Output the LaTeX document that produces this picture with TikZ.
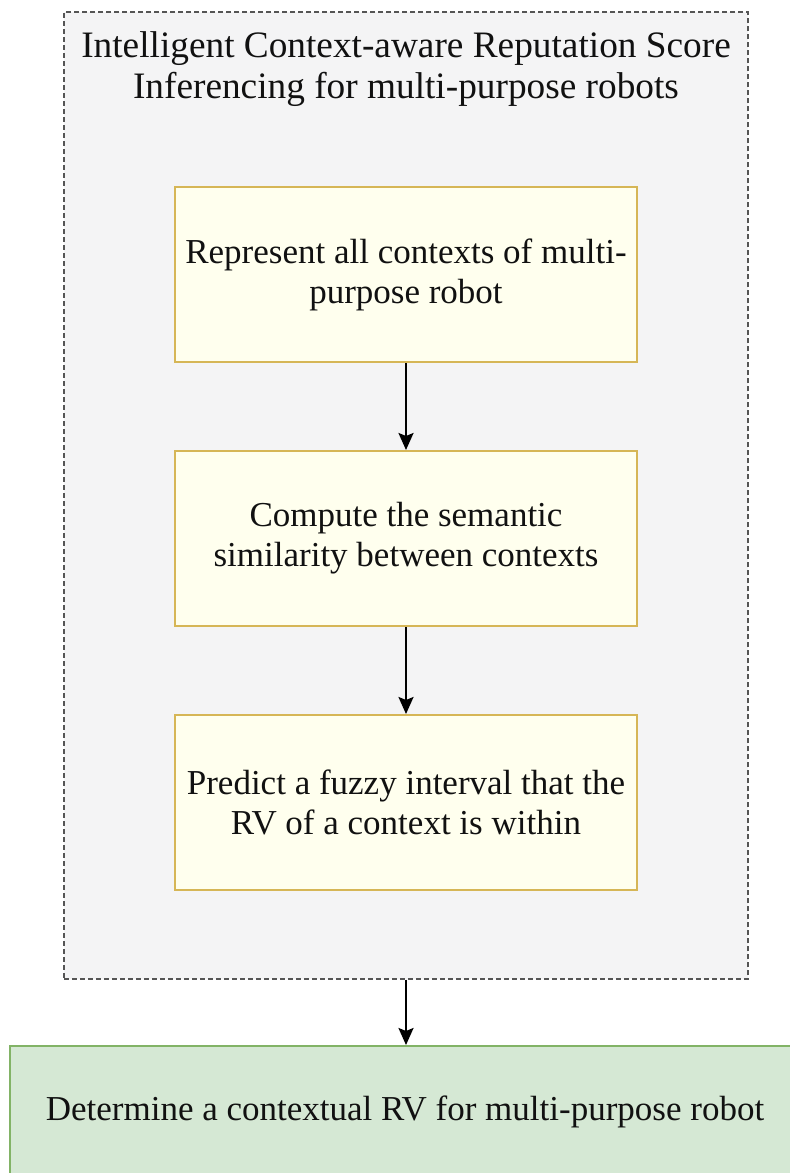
\documentclass[tikz,border=0pt]{standalone}
\usepackage{fontspec}
\setmainfont{Liberation Serif}
\usetikzlibrary{arrows.meta}
\definecolor{groupfill}{HTML}{F4F4F5}
\definecolor{groupline}{HTML}{555555}
\definecolor{stepfill}{HTML}{FFFFEE}
\definecolor{stepline}{HTML}{D6B656}
\definecolor{outfill}{HTML}{D5E8D4}
\definecolor{outline}{HTML}{82B366}
\definecolor{ink}{HTML}{111111}
\tikzset{
  group/.style={draw=groupline, fill=groupfill, line width=1.2pt,
    dash pattern=on 5pt off 3pt, minimum width=684pt, minimum height=967pt,
    inner sep=0pt},
  grouptitle/.style={text=ink, align=center, inner sep=0pt,
    font=\fontsize{37.3}{41}\selectfont},
  stepbox/.style={draw=stepline, fill=stepfill, line width=2pt,
    minimum width=462pt, minimum height=175pt, inner sep=0pt,
    text=ink, align=center, font=\fontsize{35}{40}\selectfont},
  outbox/.style={draw=outline, fill=outfill, line width=2pt,
    minimum width=790pt, minimum height=132pt, inner sep=0pt,
    text=ink, align=center, font=\fontsize{35}{40}\selectfont},
  flow/.style={draw=black, line width=2.2pt,
    -{Stealth[length=17pt, width=15pt, inset=3pt]}}
}
\begin{document}
\begin{tikzpicture}[x=1pt, y=-1pt]
  \clip (0,0) rectangle (790,1173);
  \fill[white] (0,0) rectangle (790,1173);

  % container with its caption
  \node[group] (frame) at (406,495.5) {};
  \node[grouptitle, anchor=north] (title) at (406,31)
    {Intelligent Context-aware Reputation Score\\Inferencing for multi-purpose robots};

  % processing steps
  \node[stepbox] (s1) at (406,274.5) {Represent all contexts of multi-\\purpose robot};
  \node[stepbox] (s2) at (406,538.5) {Compute the semantic\\similarity between contexts};
  \node[stepbox] (s3) at (406,802.5) {Predict a fuzzy interval that the\\RV of a context is within};

  % result
  \node[outbox] (res) at (405,1112) {Determine a contextual RV for multi-purpose robot};

  % connectors
  \draw[flow] (s1.south) -- (s2.north);
  \draw[flow] (s2.south) -- (s3.north);
  \draw[flow] (frame.south) -- (res.north -| frame.south);
\end{tikzpicture}
\end{document}
